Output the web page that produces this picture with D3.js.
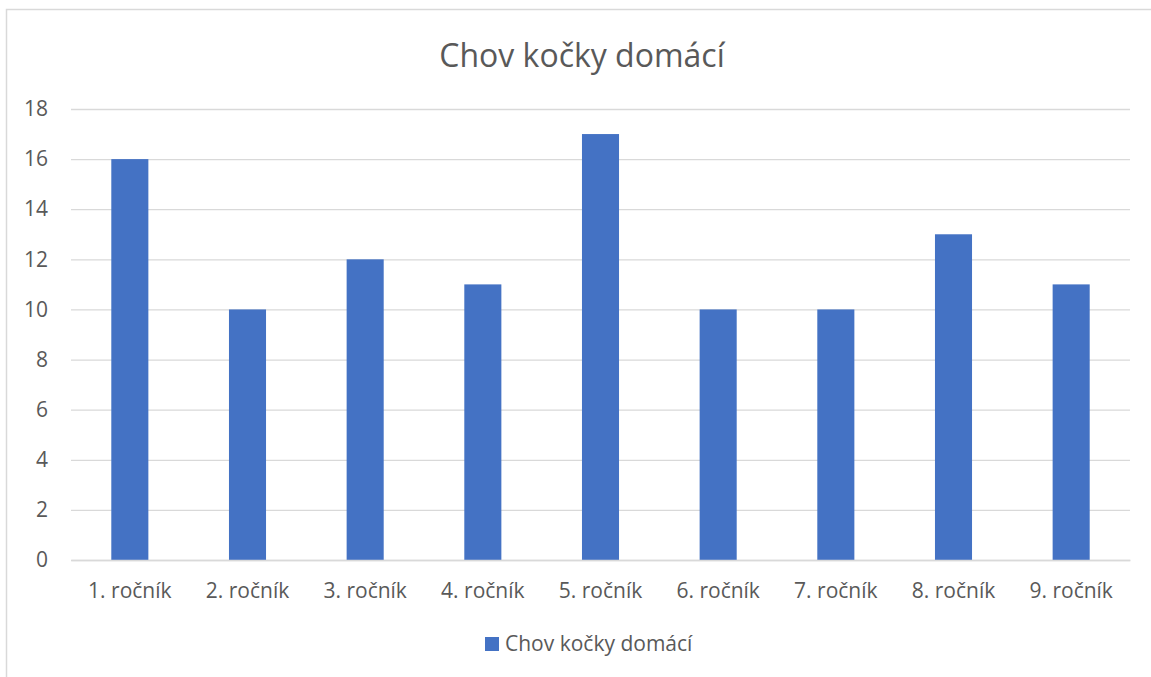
<!DOCTYPE html>
<html>
<head>
<meta charset="utf-8">
<script src="https://cdn.jsdelivr.net/npm/d3@7"></script>
<style>
  body { margin: 0; background: #fff; }
  text { font-family: "Open Sans", "Noto Sans", sans-serif; fill: #595959; }
</style>
</head>
<body>
<div id="chart"></div>
<script>
var categories = ["1. ročník", "2. ročník", "3. ročník", "4. ročník", "5. ročník",
  "6. ročník", "7. ročník", "8. ročník", "9. ročník"];
var values = [16, 10, 12, 11, 17, 10, 10, 13, 11];
var yTicks = [0, 2, 4, 6, 8, 10, 12, 14, 16, 18];
var seriesName = "Chov kočky domácí";
var title = "Chov kočky domácí";

var svgWidth = 1151;
var svgHeight = 677;
var margin = { top: 109, right: 21, bottom: 117, left: 71 };
var width = svgWidth - margin.left - margin.right;
var height = svgHeight - margin.top - margin.bottom;
var barColor = "#4472c4";

var svg = d3
  .select("#chart")
  .append("svg")
  .attr("width", svgWidth)
  .attr("height", svgHeight);

// chart frame
svg
  .append("rect")
  .attr("x", 6.5)
  .attr("y", 9.5)
  .attr("width", 1160)
  .attr("height", 700)
  .attr("fill", "none")
  .attr("stroke", "#d9d9d9")
  .attr("stroke-width", 1.5);

svg
  .append("text")
  .attr("x", 582)
  .attr("y", 67)
  .attr("text-anchor", "middle")
  .attr("font-size", "32px")
  .text(title);

var chartGroup = svg
  .append("g")
  .attr("transform", `translate(${margin.left}, ${margin.top})`);

var xScale = d3
  .scaleBand()
  .domain(categories)
  .range([0, width])
  .paddingInner(0.685)
  .paddingOuter(0.3425);

var yScale = d3.scaleLinear().domain([0, 18]).range([height, 0]);

var leftAxis = d3
  .axisLeft(yScale)
  .tickValues(yTicks)
  .tickSize(-width)
  .tickPadding(23);

var yAxis = chartGroup.append("g").call(leftAxis);
yAxis.select(".domain").remove();
yAxis.selectAll("line").attr("stroke", "#d9d9d9").attr("stroke-width", 1.3);
yAxis
  .selectAll("text")
  .attr("font-size", "21px")
  .attr("fill", "#595959")
  .attr("font-family", "Open Sans, sans-serif");

chartGroup
  .selectAll(".bar")
  .data(values)
  .enter()
  .append("rect")
  .attr("class", "bar")
  .attr("x", (d, i) => xScale(categories[i]))
  .attr("y", (d) => yScale(d))
  .attr("width", xScale.bandwidth())
  .attr("height", (d) => height - yScale(d))
  .attr("fill", barColor);

var bottomAxis = d3.axisBottom(xScale).tickSize(0).tickPadding(23);
var xAxis = chartGroup
  .append("g")
  .attr("transform", `translate(0, ${height})`)
  .call(bottomAxis);
xAxis.select(".domain").attr("stroke", "#d9d9d9").attr("stroke-width", 1.3);
xAxis
  .selectAll("text")
  .attr("font-size", "21px")
  .attr("fill", "#595959")
  .attr("font-family", "Open Sans, sans-serif");

// legend
var legend = svg.append("g").attr("transform", "translate(485, 637)");
legend
  .append("rect")
  .attr("width", 14)
  .attr("height", 14)
  .attr("fill", barColor);
legend
  .append("text")
  .attr("x", 20)
  .attr("y", 14)
  .attr("font-size", "21px")
  .text(seriesName);
</script>
</body>
</html>
